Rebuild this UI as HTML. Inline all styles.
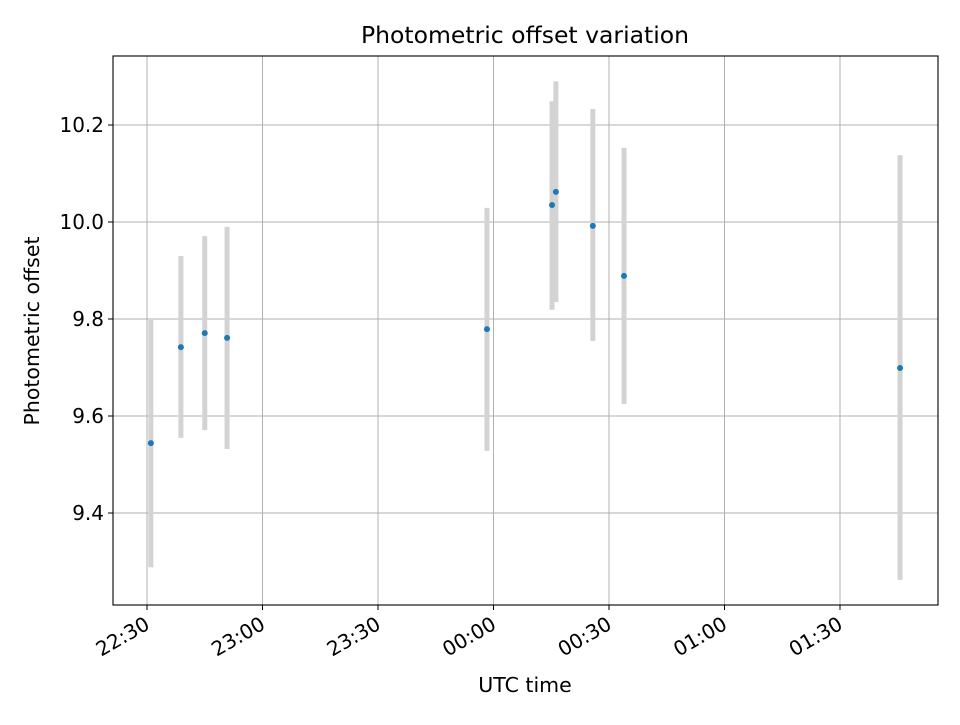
<!DOCTYPE html>
<html><head><meta charset="utf-8"><style>
body{margin:0;background:#fff;}
text{font-family:"DejaVu Sans","Liberation Sans",sans-serif;fill:#000;}
</style></head><body>
<svg id="chart" width="960" height="720" xmlns="http://www.w3.org/2000/svg">
<rect width="960" height="720" fill="#fff"/>
<g id="grid"></g>
<g id="errs"></g>
<g id="pts"></g>
<rect x="113" y="56" width="825" height="549" fill="none" stroke="#000" stroke-width="1.1"/>
<g id="axes"></g>
<text x="525" y="43" font-size="23.5" text-anchor="middle">Photometric offset variation</text>
<text x="525" y="692" font-size="20.5" text-anchor="middle">UTC time</text>
<text x="39" y="331" font-size="20.5" text-anchor="middle" transform="rotate(-90 39 331)">Photometric offset</text>
</svg>
<script>
// minutes after 22:30 UTC
const times=[1.0,8.8,15.0,20.8,88.3,105.2,106.2,115.8,123.9,195.6];
const values=[9.544,9.742,9.771,9.761,9.779,10.035,10.062,9.992,9.889,9.699];
const errLow=[9.288,9.555,9.571,9.532,9.528,9.819,9.835,9.755,9.625,9.262];
const errHigh=[9.798,9.930,9.971,9.990,10.029,10.249,10.290,10.233,10.153,10.138];
const xTicks=[0,30,60,90,120,150,180];
const xTickLabels=["22:30","23:00","23:30","00:00","00:30","01:00","01:30"];
const yTicks=[9.4,9.6,9.8,10.0,10.2];
const yTickLabels=["9.4","9.6","9.8","10.0","10.2"];
const NS="http://www.w3.org/2000/svg";
const xs=m=>147+m*(115.5/30);
const ys=v=>319-(v-9.8)*485;
function mk(tag,attrs,parent){const e=document.createElementNS(NS,tag);for(const k in attrs)e.setAttribute(k,attrs[k]);parent.appendChild(e);return e;}
const grid=document.getElementById('grid'),axes=document.getElementById('axes');
xTicks.forEach((t,i)=>{const x=xs(t);
 const g=mk('line',{x1:x,x2:x,y1:56,y2:605,stroke:'#b0b0b0','stroke-width':1},grid);
 
 const tk=mk('line',{x1:x,x2:x,y1:605,y2:610,stroke:'#000'},axes);
 
 const tx=mk('text',{x:x+4,y:628,'font-size':20,'text-anchor':'end',transform:`rotate(-30 ${x+4} 628)`},axes);
 tx.textContent=xTickLabels[i];
 
});
yTicks.forEach((t,i)=>{const y=ys(t);
 const g=mk('line',{x1:113,x2:938,y1:y,y2:y,stroke:'#b0b0b0','stroke-width':1},grid);
 
 const tk=mk('line',{x1:108,x2:113,y1:y,y2:y,stroke:'#000'},axes);
 
 const tx=mk('text',{x:104,y:y+7,'font-size':20,'text-anchor':'end'},axes);
 tx.textContent=yTickLabels[i];
 
});
const errs=document.getElementById('errs'),pts=document.getElementById('pts');
times.forEach((t,i)=>{const x=xs(t);
 const e=mk('line',{x1:x,x2:x,y1:ys(errHigh[i]),y2:ys(errLow[i]),stroke:'#d3d3d3','stroke-width':5},errs);
 
 const c=mk('circle',{cx:x,cy:ys(values[i]),r:3,fill:'#1f77b4'},pts);
 
});
</script>
</body></html>
